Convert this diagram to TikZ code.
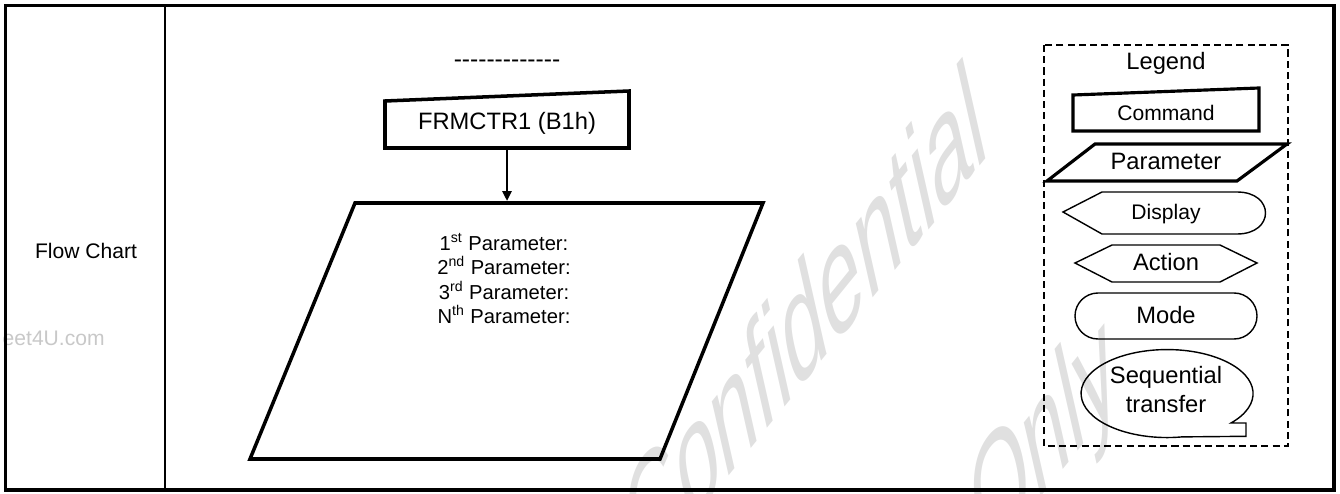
\documentclass[tikz,border=0pt]{standalone}
\usepackage{fontspec}
\setmainfont{Liberation Sans}
\usetikzlibrary{arrows.meta, positioning, calc}
\definecolor{wmgray}{RGB}{224, 224, 224}
\definecolor{wmlink}{RGB}{200, 200, 200}
\tikzset{
  frameline/.style={line width=2pt},
  cellline/.style={line width=1.3pt},
  cmdshape/.style={line width=2pt, line join=miter},
  legshape/.style={line width=1.8pt, line join=miter},
  thinshape/.style={line width=0.8pt},
  legendbox/.style={line width=1.1pt, dash pattern=on 4pt off 2.4pt},
  flowarrow/.style={-{Triangle[length=0.2cm, width=0.18cm]}, line width=1.4pt},
  txt/.style={font=\fontsize{#1}{14}\selectfont, inner sep=0pt, anchor=base},
  txt/.default=13.5,
  watermark/.style={text=wmgray, inner sep=0pt, anchor=base west,
                    font=\fontsize{60}{60}\selectfont, transform shape},
}

\begin{document}
\begin{tikzpicture}[x=0.02cm, y=-0.02cm]
  \clip (0,0) rectangle (1340,494);

  % watermarks
  \begin{scope}[shift={(640,586)}, cm={0.629,0.777,-0.30,1.33,(0,0)}]
    \node[watermark] (wmconf) at (0,0) {Confidential};
  \end{scope}
  \begin{scope}[shift={(985,566)}, cm={0.629,0.777,-0.30,1.33,(0,0)}]
    \node[watermark] (wmonly) at (0,0) {Only};
  \end{scope}
  \node[txt=12, anchor=base east, text=wmlink] (wmsite) at (105,345) {eet4U.com};

  % table
  \draw[frameline] (5.5,5.5) rectangle (1334,490);
  \draw[cellline] (165,5.5) -- (165,490);
  \node[txt=12] (cell) at (86,258) {Flow Chart};

  % flow
  \node[txt=14] (dashes) at (507,67) {-\kern0pt-\kern0pt-\kern0pt-\kern0pt-\kern0pt-\kern0pt-\kern0pt-\kern0pt-\kern0pt-\kern0pt-\kern0pt-\kern0pt-};
  \draw[cmdshape] (385,101) -- (629,91) -- (629,148) -- (385,148) -- cycle;
  \node[txt] (cmd) at (507,129) {FRMCTR1 (B1h)};
  \coordinate (cmdS) at (507,148);
  \coordinate (parN) at (507,201);
  \draw[flowarrow] (cmdS) -- (parN);
  \draw[cmdshape] (355,203) -- (763,203) -- (660,459) -- (250,459) -- cycle;
  \foreach \t [count=\i] in {{1\textsuperscript{st} Parameter:}, {2\textsuperscript{nd} Parameter:},
                             {3\textsuperscript{rd} Parameter:}, {N\textsuperscript{th} Parameter:}}
    \node[txt=11.5] (par\i) at (504,{250+24.5*(\i-1)}) {\t};

  % legend
  \draw[legendbox] (1044,45) rectangle (1288,446);
  \node[txt] (leg) at (1166,69) {Legend};
  \draw[legshape] (1073,95) -- (1259,88) -- (1259,131) -- (1073,131) -- cycle;
  \node[txt=12] (legcmd) at (1166,120) {Command};
  \draw[legshape] (1095,144) -- (1287,144) -- (1237,181) -- (1047,181) -- cycle;
  \node[txt] (legpar) at (1166,169) {Parameter};
  \draw[thinshape] (1063,212) -- (1102,192) -- (1237,192)
    .. controls (1275,192) and (1275,234) .. (1237,234) -- (1102,234) -- cycle;
  \node[txt=12] (legdisp) at (1166,219) {Display};
  \draw[thinshape] (1075,263) -- (1112,245) -- (1220,245) -- (1257,263) -- (1220,282) -- (1112,282) -- cycle;
  \node[txt] (legact) at (1166,270) {Action};
  \draw[thinshape, rounded corners=0.46cm] (1075,293) rectangle (1257,339);
  \node[txt] (legmode) at (1166,323) {Mode};
  \draw[thinshape] (1231,423) arc[start angle=42, end angle=-280, x radius=86, y radius=44]
    -- (1246,436.3) -- (1246,423) -- cycle;
  \node[txt] (legseq) at (1166,383) {Sequential};
  \node[txt] (legtrans) at (1166,412) {transfer};
\end{tikzpicture}
\end{document}
